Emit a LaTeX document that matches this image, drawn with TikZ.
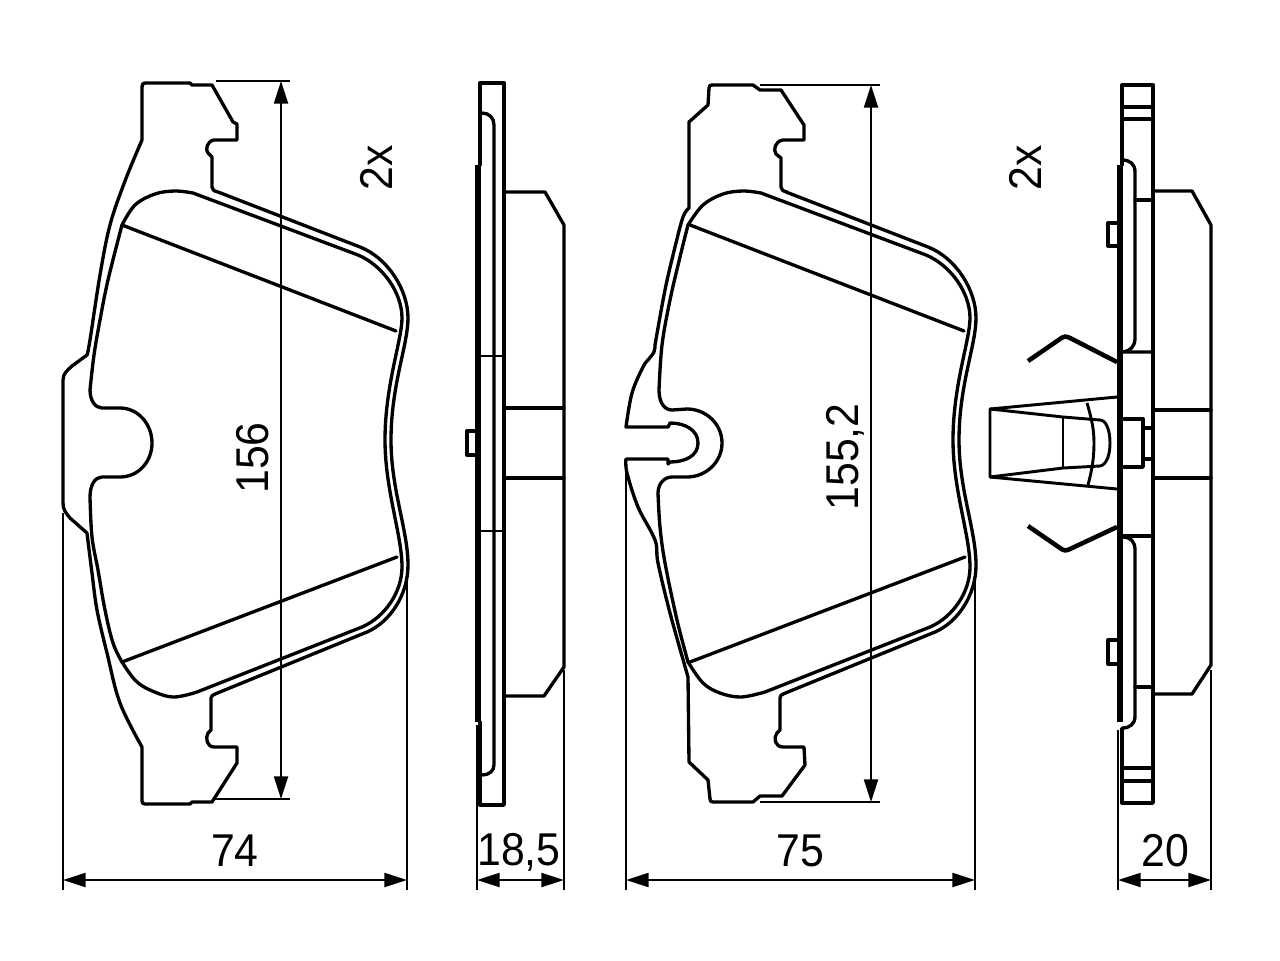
\documentclass[tikz,border=0pt]{standalone}
\usepackage{fontspec}
\setmainfont{Liberation Sans}
\usetikzlibrary{arrows.meta}
\tikzset{
  x=0.75pt,y=-0.75pt,
  outl/.style={line width=2.5pt,line join=round,line cap=round},
  thin line/.style={line width=1.8pt,line join=round},
  heavy/.style={line width=5pt},
  wing/.style={line width=3.4pt,line join=round},
  dimline/.style={line width=1.6pt,{Triangle[length=17pt,width=10.5pt]}-{Triangle[length=17pt,width=10.5pt]}},
  extline/.style={line width=1.7pt},
  lab/.style={font=\fontsize{34.5pt}{36pt}\selectfont,inner sep=0pt},
}
\newcommand{\narrowed}[1]{\scalebox{0.93}[1]{#1}}
\newcommand{\frictionright}{(358,255) .. controls (382,265) and (402,292) .. (402,318) .. controls (402,340) and (385,385) .. (385,440) .. controls (385,490) and (402,535) .. (402,567) .. controls (402,592) and (385,617) .. (362,627)}
\newcommand{\plateright}{(360,247) .. controls (388,258) and (408,290) .. (408,318) .. controls (408,345) and (391,385) .. (391,440) .. controls (391,490) and (408,530) .. (408,565) .. controls (408,595) and (390,622) .. (367,632)}
\begin{document}
\begin{tikzpicture}
\useasboundingbox (0,0) rectangle (1280,960);
\fill[white] (0,0) rectangle (1280,960);

% ---------- pad 1 ----------
\draw[outl] (145,83) -- (190,83) -- (192,85) -- (212,85) -- (233,122) -- (237,124) -- (237,140) -- (214,140)
  .. controls (207,141) and (205,150) .. (208,153) -- (212,157) -- (212,187) .. controls (212,190) and (214,191) .. (218,192)
  -- \plateright -- (215,694) .. controls (213,695) and (211,696) .. (211,698) -- (211,730) -- (208,733)
  .. controls (205,738) and (207,747) .. (214,747) -- (237,747) -- (237,763) -- (212,802) -- (192,802) -- (190,804) -- (145,804)
  .. controls (143,804) and (142,803) .. (142,801) -- (142,747)
  -- plot[smooth,tension=.6] coordinates {(142,747) (120,703) (107,653) (97,610) (92,573) (87,533)}
  -- (70,518) .. controls (66,513) and (63,510) .. (63,503) -- (63,380) .. controls (63,373) and (68,370) .. (72,366) -- (87,355)
  -- plot[smooth,tension=.6] coordinates {(87,355) (90,340) (100,275) (110,225) (125,181) (142,140)}
  -- (142,87) .. controls (142,84) and (143,83) .. (145,83) -- cycle;
\draw[outl] (122,225) -- plot[smooth,tension=.6] coordinates {(122,225) (135,205) (155,194) (175,191) (193,193)} -- \frictionright
  -- (197,692) -- plot[smooth,tension=.6] coordinates {(197,692) (173,697) (150,690) (135,680) (122,662)}
  -- plot[smooth,tension=.6] coordinates {(122,662) (113,643) (105,610) (98,570) (92,537) (90,497)}
  .. controls (90,485) and (95,477) .. (102,477) -- (120,477) .. controls (138,477) and (152,462) .. (152,443)
  .. controls (152,424) and (138,408) .. (120,408) -- (102,408) .. controls (95,408) and (90,400) .. (90,390)
  -- plot[smooth,tension=.6] coordinates {(90,390) (94,355) (100,320) (108,280) (122,225)};
\draw[outl] (122,225) -- (396,331);
\draw[outl] (122,662) -- (397,557);

% dimensions pad 1
\coordinate (a1t) at (281,81); \coordinate (a1b) at (281,799);
\draw[extline,line width=2.2pt] (216,81) -- (290,81);
\draw[extline] (215,799) -- (290,799);
\draw[dimline] (a1t) -- (a1b);
\coordinate (a1l) at (63,880); \coordinate (a1r) at (407,880);
\draw[extline] (63,513) -- (63,890);
\draw[extline] (407,568) -- (407,890);
\draw[dimline] (a1l) -- (a1r);
\node[lab] (t74) at (235,851) {\narrowed{74}};
\node[lab,rotate=90] (t156) at (253,458) {\narrowed{156}};
\node[lab,rotate=90] (t2x1) at (376,168) {\narrowed{2x}};

% ---------- side view 1 ----------
\draw[outl] (480,722) -- (480,805) -- (504,805) -- (504,83) -- (480,83) -- (480,165);
\draw[heavy] (478,165) -- (478,722);
\draw[outl] (482,113) .. controls (489,113) and (494,118) .. (494,125) -- (494,765) .. controls (494,771) and (489,775) .. (482,775);
\draw[thin line,line width=2.2pt] (480,356) -- (505,356);
\draw[thin line,line width=2.2pt] (480,531) -- (505,531);
\draw[outl] (504,192) -- (545,192) -- (564,225) -- (564,667) -- (544,696) -- (504,696);
\draw[outl] (505,408) -- (564,408);
\draw[outl] (505,478) -- (564,478);
\draw[outl] (476,431) -- (467,431) -- (467,455) -- (476,455);
\coordinate (a2l) at (477,880); \coordinate (a2r) at (564,880);
\draw[extline] (477,725) -- (477,890);
\draw[extline] (564,670) -- (564,890);
\draw[dimline] (a2l) -- (a2r);
\node[lab] (t185) at (519,852) {\narrowed{18,5}};

% ---------- pad 2 ----------
\draw[outl] (712,85) -- (753,85) -- (760,90) -- (781,90) -- (802,122) -- (804,125) -- (804,140) -- (783,140)
  .. controls (775,141) and (773,150) .. (776,154) -- (781,158) -- (781,187) .. controls (781,190) and (783,191) .. (787,192);
\begin{scope}[shift={(568,0)}]
\draw[outl] (218,192) -- \plateright -- (215,694);
\end{scope}
\draw[outl] (783,694) .. controls (781,695) and (780,696) .. (780,698) -- (780,730) -- (777,733)
  .. controls (773,738) and (775,747) .. (783,747) -- (804,747) -- (805,765) -- (782,796) -- (760,796) -- (753,802) -- (713,802)
  .. controls (711,802) and (710,801) .. (710,799) -- (708,780) -- (689,762) -- (688,677)
  -- plot[smooth,tension=.6] coordinates {(688,677) (670,613) (658,563) (655,540) (638,507) (627,473) (626,459)}
  -- (668,459) -- (668,464) -- (670,462) .. controls (685,462) and (698,456) .. (698,443) .. controls (698,430) and (685,423) .. (670,423) -- (668,427) -- (626,427)
  -- plot[smooth,tension=.6] coordinates {(626,427) (632,393) (643,367) (648,360) (654,352) (655,345)}
  -- plot[smooth,tension=.6] coordinates {(655,345) (665,290) (675,247) (683,217) (689,208)}
  -- (689,122) -- (708,105) -- (709,88) .. controls (709,86) and (710,85) .. (712,85);
\begin{scope}[shift={(568,0)}]
\draw[outl] (120,225) -- plot[smooth,tension=.6] coordinates {(120,225) (135,205) (155,194) (175,191) (193,193)} -- \frictionright -- (197,692)
  -- plot[smooth,tension=.6] coordinates {(197,692) (173,697) (152,693) (135,683) (120,662)};
\end{scope}
\draw[outl] (688,225) -- plot[smooth,tension=.6] coordinates {(688,225) (680,257) (670,300) (662,345) (659,390)}
  .. controls (659,402) and (664,410) .. (672,410) -- (687,409) .. controls (706,409) and (722,424) .. (722,443)
  .. controls (722,462) and (706,477) .. (687,477) -- (672,477) .. controls (664,477) and (658,484) .. (658,493)
  -- plot[smooth,tension=.6] coordinates {(658,493) (660,527) (665,563) (677,620) (688,662)};
\draw[outl] (690,225) -- (964,331);
\draw[outl] (690,662) -- (965,557);

% dimensions pad 2
\coordinate (a3t) at (871,85); \coordinate (a3b) at (871,802);
\draw[extline] (760,85) -- (880,85);
\draw[extline] (760,802) -- (880,802);
\draw[dimline] (a3t) -- (a3b);
\coordinate (a3l) at (626,880); \coordinate (a3r) at (975,880);
\draw[extline] (626,459) -- (626,890);
\draw[extline] (975,568) -- (975,890);
\draw[dimline] (a3l) -- (a3r);
\node[lab] (t75) at (800,851) {\narrowed{75}};
\node[lab,rotate=90] (t1552) at (845,457) {\narrowed{155,2}};
\node[lab,rotate=90] (t2x2) at (1025,168) {\narrowed{2x}};

% ---------- side view 2 ----------
\draw[outl] (1122,165) -- (1122,85) -- (1153,85) -- (1153,803) -- (1122,803) -- (1122,730);
\draw[outl] (1122,107) -- (1153,107);
\draw[outl] (1122,119) -- (1153,119);
\draw[outl] (1122,768) -- (1153,768);
\draw[outl] (1122,781) -- (1153,781);
\draw[heavy] (1120,165) -- (1120,722);
\draw[line width=3.2pt] (1122,728) -- (1122,803);
\draw[outl] (1122,160) .. controls (1130,160) and (1135,164) .. (1135,172) -- (1135,338) .. controls (1135,347) and (1130,351) .. (1123,352) -- (1153,352);
\draw[outl] (1123,536) -- (1153,536);
\draw[outl] (1123,537) .. controls (1130,537) and (1135,541) .. (1135,550) -- (1135,716) .. controls (1135,724) and (1130,728) .. (1122,728);
\draw[outl] (1135,200) -- (1153,200);
\draw[outl] (1135,687) -- (1153,687);
\draw[outl] (1153,191) -- (1192,191) -- (1211,225) -- (1211,665) -- (1192,694) -- (1153,694);
\draw[outl] (1153,410) -- (1211,410);
\draw[outl] (1153,478) -- (1211,478);
\draw[outl] (1117,223) -- (1108,223) -- (1108,246) -- (1117,246);
\draw[outl] (1117,640) -- (1108,640) -- (1108,664) -- (1117,664);
% nut
\draw[outl] (1124,419) -- (1143,419) -- (1143,467) -- (1124,467);
\draw[outl] (1143,428) -- (1153,428);
\draw[outl] (1143,459) -- (1153,459);
% clip
\draw[wing] (1028,361) -- (1060,339) .. controls (1064,336) and (1066,336) .. (1070,338) -- (1117,362);
\draw[wing] (1028,526) -- (1060,548) .. controls (1064,551) and (1066,551) .. (1070,549) -- (1117,527);
\draw[thin line,line width=2.2pt] (1117,397) -- (990,409) -- (990,477) -- (1117,489);
\draw[thin line,line width=2.2pt] (990,409) -- (1063,417) -- (1100,420) .. controls (1106,420) and (1110,430) .. (1110,443) .. controls (1110,456) and (1106,465) .. (1100,466) -- (1063,468) -- (990,477);
\draw[thin line,line width=2.2pt] (1063,417) -- (1063,468);
\draw[thin line,line width=2.2pt] (1087,403) .. controls (1092,420) and (1094,430) .. (1094,443) .. controls (1094,458) and (1092,470) .. (1088,485);

\coordinate (a4l) at (1118,880); \coordinate (a4r) at (1211,880);
\draw[extline] (1118,730) -- (1118,890);
\draw[extline] (1211,670) -- (1211,890);
\draw[dimline] (a4l) -- (a4r);
\node[lab] (t20) at (1165,851) {\narrowed{20}};
\end{tikzpicture}
\end{document}
